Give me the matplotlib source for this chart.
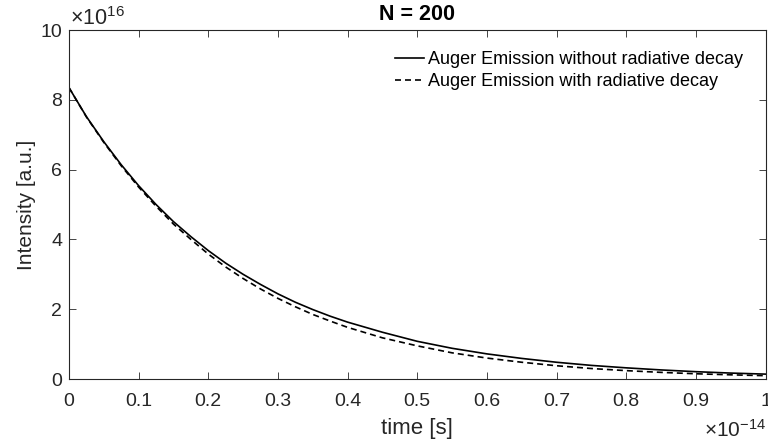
import matplotlib.pyplot as plt
import numpy as np

plt.rcParams['font.family'] = ['Liberation Sans', 'DejaVu Sans']
plt.rcParams['mathtext.fontset'] = 'custom'
plt.rcParams['mathtext.rm'] = 'Liberation Sans'
plt.rcParams['mathtext.it'] = 'Liberation Sans:italic'
plt.rcParams['mathtext.bf'] = 'Liberation Sans:bold'

# time in units of 1e-14 s, intensity in units of 1e16
time = [0.000, 0.025, 0.050, 0.075, 0.100, 0.125, 0.150, 0.175, 0.200, 0.225,
        0.250, 0.275, 0.300, 0.325, 0.350, 0.375, 0.400, 0.450, 0.500, 0.550,
        0.600, 0.650, 0.700, 0.750, 0.800, 0.850, 0.900, 0.950, 1.000]
no_rad = [8.35, 7.52, 6.80, 6.14, 5.54, 5.00, 4.51, 4.08, 3.68, 3.32,
          3.00, 2.71, 2.44, 2.20, 1.99, 1.80, 1.63, 1.34, 1.08, 0.88,
          0.72, 0.59, 0.48, 0.39, 0.32, 0.26, 0.21, 0.17, 0.14]
with_rad = [8.35, 7.51, 6.78, 6.11, 5.50, 4.95, 4.44, 4.00, 3.58, 3.21,
            2.88, 2.58, 2.31, 2.07, 1.85, 1.66, 1.48, 1.18, 0.95, 0.75,
            0.60, 0.48, 0.38, 0.30, 0.24, 0.19, 0.15, 0.12, 0.095]
xticks = [0, 0.1, 0.2, 0.3, 0.4, 0.5, 0.6, 0.7, 0.8, 0.9, 1]
xticklabels = ['0', '0.1', '0.2', '0.3', '0.4', '0.5', '0.6', '0.7', '0.8', '0.9', '1']
yticks = [0, 2, 4, 6, 8, 10]

axcol = '#262626'
fig = plt.figure(figsize=(7.68, 4.48), dpi=100)
ax = fig.add_axes([0.0898, 0.154, 0.907, 0.779])

ax.plot(time, no_rad, color='black', linewidth=1.2, label='Auger Emission without radiative decay')
ax.plot(time, with_rad, color='black', linewidth=1.2, linestyle=(0, (3.6, 2.4)),
        label='Auger Emission with radiative decay')

ax.set_xlim(0, 1)
ax.set_ylim(0, 10)
ax.set_xticks(xticks)
ax.set_xticklabels(xticklabels)
ax.set_yticks(yticks)
ax.tick_params(direction='in', length=5, width=0.6, top=True, right=True,
               labelsize=14, colors=axcol)
ax.tick_params(axis='x', pad=10)
ax.tick_params(axis='y', pad=5)
for sp in ax.spines.values():
    sp.set_color(axcol)
    sp.set_linewidth(0.8)

ax.set_xlabel('time [s]', fontsize=16, color=axcol, labelpad=6)
ax.set_ylabel('Intensity [a.u.]', fontsize=15, color=axcol, labelpad=3)
ax.set_title('N = 200', fontsize=15.5, fontweight='bold', pad=7)

ax.text(0.002, 1.0, r'$\times10^{16}$', transform=ax.transAxes, fontsize=15.5,
        color=axcol, ha='left', va='bottom')
ax.text(1.0, -0.115, r'$\times10^{-14}$', transform=ax.transAxes, fontsize=15,
        color=axcol, ha='right', va='top')

ax.legend(loc='upper right', bbox_to_anchor=(0.967, 0.94), frameon=False,
          fontsize=13, handlelength=1.6, handletextpad=0.2, borderaxespad=0,
          borderpad=0, labelspacing=0.3)

fig.savefig('out.png', dpi=100)
